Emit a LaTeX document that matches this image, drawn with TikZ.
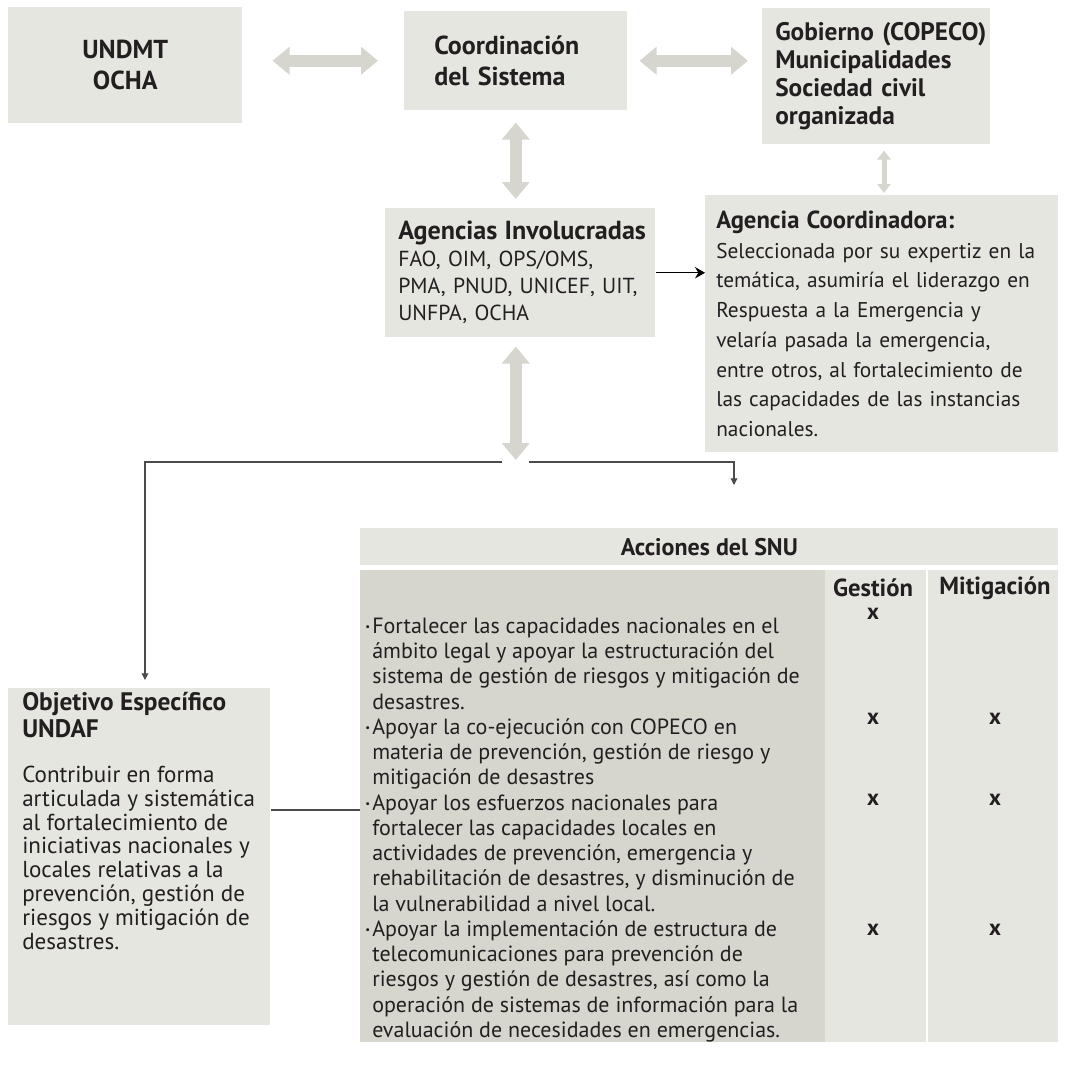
\documentclass[tikz,border=0pt]{standalone}
\usepackage{fontspec}
\setmainfont{PT Sans}
\usetikzlibrary{arrows.meta,calc}
\definecolor{boxgray}{RGB}{230,230,225}
\definecolor{arrgray}{RGB}{214,214,206}
\definecolor{darkcol}{RGB}{215,214,206}
\definecolor{txtc}{RGB}{35,31,32}
\definecolor{linec}{RGB}{75,75,75}
\newcommand\fHead{\bfseries\fontsize{19.5}{23.5}\selectfont}
\newcommand\fGob{\bfseries\fontsize{19}{21}\selectfont}
\newcommand\fAg{\fontsize{16.3}{20.25}\selectfont}
\newcommand\fCo{\fontsize{16}{22.3}\selectfont}
\newcommand\fTab{\fontsize{16.5}{18.94}\selectfont}
\newcommand\fObj{\fontsize{17.3}{17.9}\selectfont}
\newcommand\bul{\makebox[5.25pt][l]{\raisebox{1.8pt}{\fontsize{8}{8}\selectfont\textbullet}}}
\newcommand\ind{\hspace*{5.25pt}}
\begin{document}
\begin{tikzpicture}[x=0.75pt,y=-0.75pt,
  box/.style={fill=boxgray, inner sep=0pt, anchor=north west, text=txtc},
  bigarrow/.style={draw=arrgray, line width=9pt, {Triangle[length=12.75pt,width=20.25pt]}-{Triangle[length=12.75pt,width=20.25pt]}},
  smallarrow/.style={draw=arrgray, line width=3.75pt, {Triangle[length=6.75pt,width=9.75pt]}-{Triangle[length=6.75pt,width=9.75pt]}},
  conn/.style={draw=linec, line width=0.8pt},
  tipc/.style={-{Triangle[length=5pt,width=5pt]}},
  colhead/.style={text=txtc, font=\bfseries\fontsize{18.5}{18.5}\selectfont, inner sep=0pt},
  xmark/.style={text=txtc, font=\bfseries\fontsize{17}{17}\selectfont, inner sep=0pt},
]
\useasboundingbox (0,0) rectangle (1065,1070);

% top row
\node[box, minimum width=175.5pt, minimum height=87pt, align=center, font=\fHead] (undmt) at (8,7) {UNDMT\\OCHA};
\node[box, minimum width=167.25pt, minimum height=74.25pt, text width=122.25pt, align=left, font=\fHead] (coord) at (404,11) {Coordinación\\del Sistema};
\node[box, minimum width=171pt, minimum height=102pt, text width=151.5pt, align=left, font=\fGob] (gob) at (762,8) {\mbox{Gobierno (COPECO)}\\Municipalidades\\Sociedad civil\\organizada};

% middle row
\node[box, minimum width=202.5pt, minimum height=96.75pt, text width=183pt, align=left, font=\fAg] (agencias) at (385,208) {\mbox{\bfseries\fontsize{19.6}{20}\selectfont Agencias Involucradas}\\\mbox{FAO, OIM, OPS/OMS,}\\\mbox{PMA, PNUD, UNICEF, UIT,}\\\mbox{UNFPA, OCHA}};
\node[box, minimum width=264.75pt, minimum height=192.75pt, text width=248.25pt, align=left, font=\fCo] (agcoord) at (705,195) {\mbox{\bfseries\fontsize{18.5}{20}\selectfont Agencia Coordinadora:}\\\mbox{Seleccionada por su expertiz en la}\\\mbox{temática, asumiría el liderazgo en}\\\mbox{Respuesta a la Emergencia y}\\\mbox{velaría pasada la emergencia,}\\\mbox{entre otros, al fortalecimiento de}\\\mbox{las capacidades de las instancias}\\\mbox{nacionales.}};

% objetivo
\node[box, minimum width=196.5pt, minimum height=252.75pt] (objetivo) at (8,688) {\parbox[c][252.75pt][t]{175.5pt}{\raggedright
{\bfseries\fontsize{19}{20.25}\selectfont\rule{0pt}{16.5pt}Objetivo Específico\\UNDAF\par}
\vspace{15.85pt}
{\fObj Contribuir en forma\\articulada y sistemática\\al fortalecimiento de\\iniciativas nacionales y\\locales relativas a la\\prevención, gestión de\\riesgos y mitigación de\\desastres.\par}}};

% table
\node[box, minimum width=523.5pt, minimum height=27.75pt, font=\bfseries\fontsize{18}{18}\selectfont] (header) at (360,528) {Acciones del SNU};
\node[box, fill=darkcol, minimum width=348.75pt, minimum height=354pt] (actcol) at (360,570) {\parbox[c][354pt][t]{341.25pt}{\fTab\raggedright
\rule{0pt}{47.25pt}\bul\mbox{Fortalecer las capacidades nacionales en el}\\
\ind\mbox{ámbito legal y apoyar la estructuración del}\\
\ind\mbox{sistema de gestión de riesgos y mitigación de}\\
\ind\mbox{desastres.}\\
\bul\mbox{Apoyar la co-ejecución con COPECO en}\\
\ind\mbox{materia de prevención, gestión de riesgo y}\\
\ind\mbox{mitigación de desastres}\\
\bul\mbox{Apoyar los esfuerzos nacionales para}\\
\ind\mbox{fortalecer las capacidades locales en}\\
\ind\mbox{actividades de prevención, emergencia y}\\
\ind\mbox{rehabilitación de desastres, y disminución de}\\
\ind\mbox{la vulnerabilidad a nivel local.}\\
\bul\mbox{Apoyar la implementación de estructura de}\\
\ind\mbox{telecomunicaciones para prevención de}\\
\ind\mbox{riesgos y gestión de desastres, así como la}\\
\ind\mbox{operación de sistemas de información para la}\\
\ind\mbox{evaluación de necesidades en emergencias.}\par}};
\node[box, minimum width=75.75pt, minimum height=354pt] (gescol) at (825,570) {};
\node[box, minimum width=97.5pt, minimum height=354pt] (mitcol) at (928,570) {};

\node[colhead] (hges) at (873,588) {Gestión};
\node[colhead] (hmit) at (995,588) {Mitigación};
\node[xmark] (g1) at (873,614) {x};
\node[xmark] (g2) at (873,719) {x};
\node[xmark] (m2) at (995,719) {x};
\node[xmark] (g3) at (873,800) {x};
\node[xmark] (m3) at (995,800) {x};
\node[xmark] (g4) at (873,930) {x};
\node[xmark] (m4) at (995,930) {x};

% gray arrows
\coordinate (v2x) at (884,0);
\coordinate (hl) at (502,462);
\coordinate (hr) at (529,462);
\coordinate (lx) at (145,0);
\coordinate (rx) at (734,0);
\coordinate (ly) at (0,810);
\draw[bigarrow] ($(undmt.east |- coord.west)+(30,0)$) -- ($(coord.west)+(-26,0)$);
\draw[bigarrow] ($(coord.east)+(12,0)$) -- ($(coord.east -| gob.west)+(-14,0)$);
\draw[bigarrow] ($(coord.south)+(0,12)$) -- ($(coord.south |- agencias.north)+(0,-9)$);
\draw[smallarrow] ($(gob.south -| v2x)+(0,6)$) -- ($(agcoord.north -| v2x)+(0,-2)$);
\draw[bigarrow] ($(coord.south |- agencias.south)+(0,9)$) -- ($(coord.south |- hl)+(0,-2)$);

% thin connectors
\draw[draw=black, line width=0.8pt, -{Stealth[length=7.5pt,width=8.5pt,inset=2.5pt]}] (agencias.east) -- (agencias.east -| agcoord.west);
\draw[conn, tipc] (hl) -| ($(objetivo.north -| lx)+(0,-8)$);
\draw[conn, tipc] (hr) -| ($(header.north -| rx)+(0,-43)$);
\draw[conn] (objetivo.east |- ly) -- (actcol.west |- ly);
\end{tikzpicture}
\end{document}
